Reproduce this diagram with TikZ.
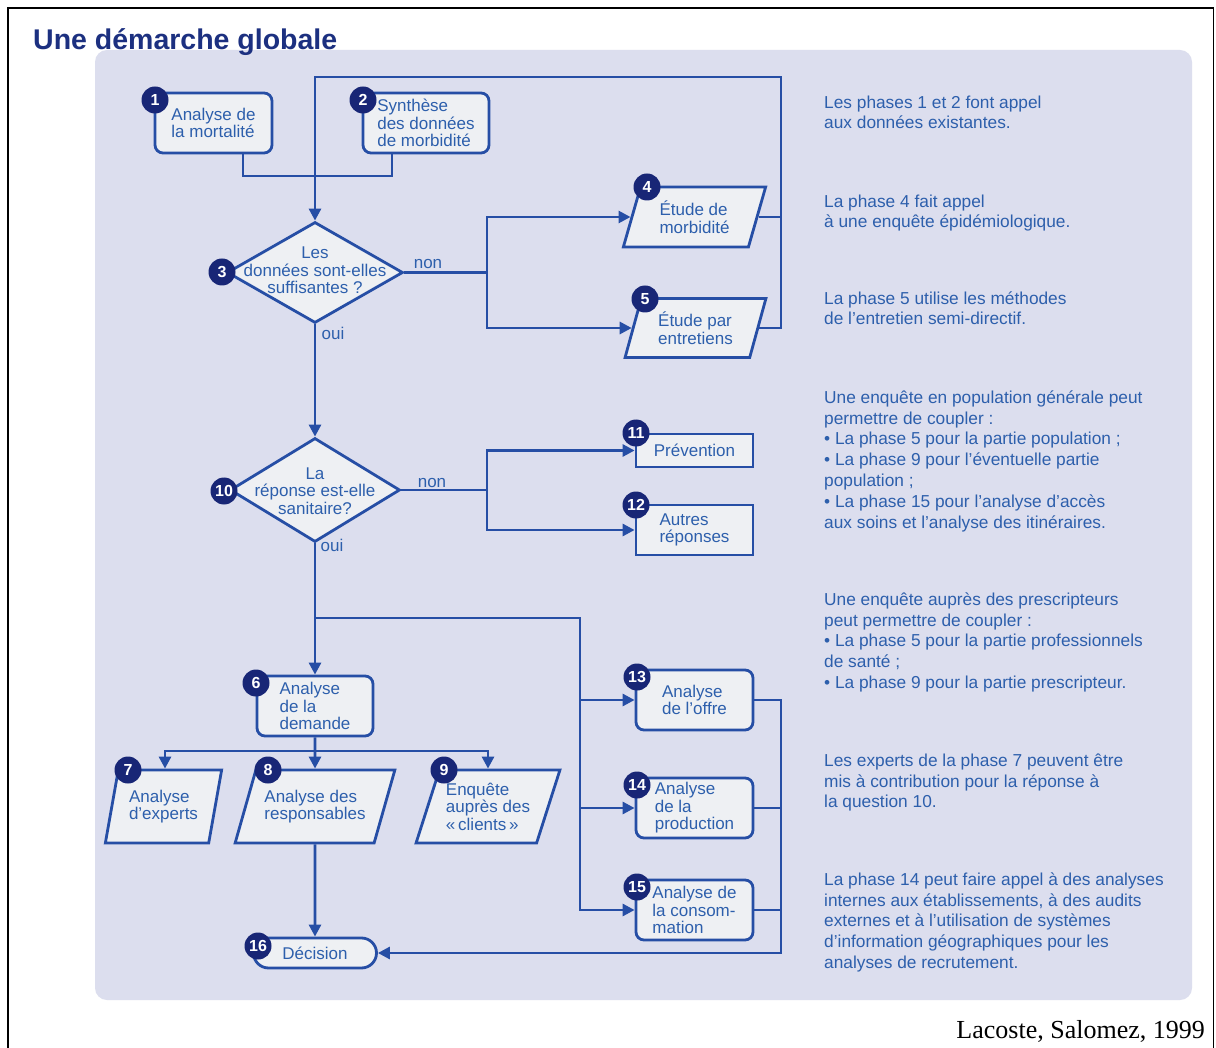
\documentclass[tikz,border=0pt]{standalone}
\usepackage{fontspec}
\setmainfont{Liberation Sans}
\newfontfamily\credfont{Liberation Serif}
\usetikzlibrary{shapes.geometric,arrows.meta}
\definecolor{panel}{RGB}{220,222,238}
\definecolor{lineblue}{RGB}{38,78,165}
\definecolor{textblue}{RGB}{45,95,172}
\definecolor{nodefill}{RGB}{238,240,243}
\definecolor{navy}{RGB}{24,38,118}
\definecolor{titleblue}{RGB}{28,48,128}
\newcommand\nodefont{\fontsize{17}{17.5}\selectfont}
\newcommand\notefont{\fontsize{17.3}{20.8}\selectfont}
\newcommand\numfont{\fontsize{16}{16}\selectfont\bfseries}
\newcommand\firstln{\rule{0pt}{16pt}}
\begin{document}
\begin{tikzpicture}[x=1pt,y=-1pt,
  ln/.style={draw=lineblue, line width=2.8pt},
  arr/.style={ln, -{Triangle[length=12pt,width=12pt]}},
  box/.style={draw=lineblue, line width=2.8pt, fill=nodefill, rounded corners=8pt, text=textblue, font=\nodefont, align=left, inner sep=0pt},
  sqbox/.style={box, rounded corners=0pt},
  para/.style={box, rounded corners=0pt, trapezium, trapezium stretches=true},
  dia/.style={draw=lineblue, line width=2.8pt, fill=nodefill, diamond, inner sep=0pt},
  dtext/.style={text=textblue, font=\nodefont, align=center, inner sep=0pt},
  lbl/.style={text=textblue, font=\nodefont, inner sep=0pt},
  num/.style={circle, fill=navy, text=white, font=\numfont, inner sep=0pt, minimum size=27pt},
  note/.style={text=textblue, font=\notefont, align=left, anchor=north west, inner sep=0pt}
]
\useasboundingbox (0,0) rectangle (1216,1048);
\fill[white] (0,0) rectangle (1216,1048);
\draw[black, line width=1.6pt] (8,1048) -- (8,8) -- (1213.5,8) -- (1213.5,1048);
\fill[panel, rounded corners=12pt] (95,50) rectangle (1192,1000);

\node[anchor=base west, font=\fontsize{28.5}{30}\selectfont\bfseries, text=titleblue, inner sep=0pt] (title) at (33,50) {Une démarche globale};
\node[anchor=base east, font=\credfont\fontsize{26}{28}\selectfont, inner sep=0pt] (credit) at (1205,1038) {Lacoste, Salomez, 1999};

% nodes
\node[box, minimum width=117pt, minimum height=60pt] (n1) at (213.5,123) {Analyse de\\la mortalité};
\node[box, minimum width=126pt, minimum height=60pt] (n2) at (426,123) {Synthèse\\des données\\de morbidité};
\node[dia, minimum width=176pt, minimum height=101pt] (n3) at (315,272.5) {};
\node[dtext] (n3t) at (315,270.5) {Les\\données sont-elles\\suffisantes ?};
\node[para, trapezium left angle=71, trapezium right angle=109, minimum width=143pt, minimum height=60pt] (n4) at (694.5,217) {Étude de\\morbidité};
\node[para, trapezium left angle=71, trapezium right angle=109, minimum width=141pt, minimum height=59pt] (n5) at (695.5,328) {Étude par\\entretiens};
\node[lbl] (non1) at (428,264) {non};
\node[lbl] (oui1) at (333,333) {oui};

\node[dia, minimum width=170pt, minimum height=104pt] (n10) at (315,490) {};
\node[dtext] (n10t) at (315,491) {La\\réponse est-elle\\sanitaire?};
\node[lbl] (non2) at (432,483) {non};
\node[lbl] (oui2) at (332,545) {oui};
\node[sqbox, minimum width=117pt, minimum height=33pt] (n11) at (694.5,450.5) {Prévention};
\node[sqbox, minimum width=117pt, minimum height=50pt] (n12) at (694.5,530) {Autres\\réponses};

\node[box, minimum width=116pt, minimum height=60pt] (n6) at (315,706) {Analyse\\de la\\demande};
\node[para, trapezium left angle=73.5, trapezium right angle=106.5, minimum width=117pt, minimum height=73pt] (n7) at (163.5,806.5) {Analyse\\d'experts};
\node[para, trapezium left angle=62, trapezium right angle=118, minimum width=160pt, minimum height=73pt] (n8) at (315,806.5) {Analyse des\\responsables};
\node[para, trapezium left angle=67, trapezium right angle=113, minimum width=144pt, minimum height=73pt] (n9) at (488,806.5) {Enquête\\auprès des\\«\,clients\,»};

\node[box, minimum width=117pt, minimum height=60pt] (n13) at (694.5,700) {Analyse\\de l'offre};
\node[box, minimum width=117pt, minimum height=60pt] (n14) at (694.5,808) {Analyse\\de la\\production};
\node[box, minimum width=117pt, minimum height=60pt] (n15) at (694.5,910) {Analyse de\\la consom-\\mation};
\node[box, rounded corners=15pt, minimum width=123pt, minimum height=30pt] (n16) at (315,953) {Décision};

% connectors
\coordinate (t1) at (243,176);
\coordinate (t2) at (392,176);
\coordinate (top) at (315,77);
\coordinate (topR) at (781,77);
\draw[ln] (t1 |- n1.south) -- (t1) -- (t2) -- (t2 |- n2.south);
\draw[arr] (n5.right side) -- (n5.right side -| topR) -- (topR) -- (top) -- (n3.north);
\draw[ln] (n4.right side) -- (n4.right side -| topR);

\coordinate (j3) at (487,272.5);
\draw[arr] (n3.east) -- (j3) |- (n4.left side);
\draw[arr] (j3) |- (n5.left side);

\draw[arr] (n3.south) -- (n10.north);
\coordinate (j10) at (487,490);
\draw[arr] (n10.east) -- (j10) |- (n11.west);
\draw[arr] (j10) |- (n12.west);

\coordinate (j6) at (315,618);
\coordinate (j6r) at (580,618);
\draw[arr] (n10.south) -- (n6.north);
\draw[arr] (j6) -- (j6r) |- (n13.west);
\draw[arr] (j6r) |- (n15.west);
\draw[arr] (j6r |- n14.west) -- (n14.west);

\coordinate (d1) at (165,751);
\coordinate (d2) at (488,751);
\draw[arr] (n6.south |- d1) -- (d1) -- (d1 |- n7.north);
\draw[arr] (n6.south |- d1) -- (d2) -- (d2 |- n9.north);
\draw[arr] (n6.south) -- (n8.north);
\draw[arr] (n8.south) -- (n16.north);

\coordinate (rb) at (781,953);
\draw[arr] (n13.east) -- (n13.east -| rb) -- (rb) -- (n16.east);
\draw[ln] (n14.east) -- (n14.east -| rb);
\draw[ln] (n15.east) -- (n15.east -| rb);

% number circles
\node[num] (c1) at (155,100) {1};
\node[num] (c2) at (363,100) {2};
\node[num] (c3) at (222,272) {3};
\node[num] (c4) at (647,187) {4};
\node[num] (c5) at (645,299) {5};
\node[num] (c10) at (224,491) {10};
\node[num] (c11) at (636,433) {11};
\node[num] (c12) at (636,505) {12};
\node[num] (c6) at (256,683) {6};
\node[num] (c7) at (128,770) {7};
\node[num] (c8) at (268,770) {8};
\node[num] (c9) at (444,770) {9};
\node[num] (c13) at (637,677) {13};
\node[num] (c14) at (637,785) {14};
\node[num] (c15) at (637,887) {15};
\node[num] (c16) at (258,946) {16};

% notes
\node[note] (note1) at (824,92) {\firstln Les phases 1 et 2 font appel\\aux données existantes.};
\node[note] (note2) at (824,191) {\firstln La phase 4 fait appel\\à une enquête épidémiologique.};
\node[note] (note3) at (824,288) {\firstln La phase 5 utilise les méthodes\\de l’entretien semi-directif.};
\node[note] (note4) at (824,387) {\firstln Une enquête en population générale peut\\permettre de coupler :\\\textbullet\ La phase 5 pour la partie population ;\\\textbullet\ La phase 9 pour l’éventuelle partie\\population ;\\\textbullet\ La phase 15 pour l’analyse d’accès\\aux soins et l’analyse des itinéraires.};
\node[note] (note5) at (824,589) {\firstln Une enquête auprès des prescripteurs\\peut permettre de coupler :\\\textbullet\ La phase 5 pour la partie professionnels\\de santé ;\\\textbullet\ La phase 9 pour la partie prescripteur.};
\node[note] (note6) at (824,750) {\firstln Les experts de la phase 7 peuvent être\\mis à contribution pour la réponse à\\la question 10.};
\node[note] (note7) at (824,869) {\firstln La phase 14 peut faire appel à des analyses\\internes aux établissements, à des audits\\externes et à l’utilisation de systèmes\\d’information géographiques pour les\\analyses de recrutement.};
\end{tikzpicture}
\end{document}
